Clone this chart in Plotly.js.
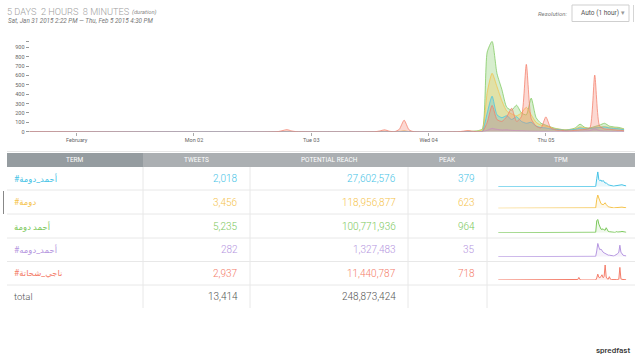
<!DOCTYPE html>
<html><head><meta charset="utf-8">
<script src="https://cdn.plot.ly/plotly-3.0.1.min.js"></script>
<style>html,body{margin:0;padding:0;background:#fff}#c{width:640px;height:360px}</style>
</head><body><div id="c"></div>
<script>
// ---------- DATA ----------
const times = [
  "2015-01-31 14:00",
  "2015-02-02 17:00","2015-02-02 18:00","2015-02-02 19:00","2015-02-02 20:00","2015-02-02 21:00",
  "2015-02-03 13:00","2015-02-03 14:00","2015-02-03 15:00","2015-02-03 16:00","2015-02-03 17:00",
  "2015-02-03 18:00","2015-02-03 19:00","2015-02-03 20:00","2015-02-03 21:00",
  "2015-02-04 06:00","2015-02-04 07:00","2015-02-04 08:00","2015-02-04 09:00","2015-02-04 10:00","2015-02-04 11:00",
  "2015-02-04 12:00","2015-02-04 13:00","2015-02-04 14:00","2015-02-04 15:00","2015-02-04 16:00","2015-02-04 17:00",
  "2015-02-04 18:00","2015-02-04 19:00","2015-02-04 20:00","2015-02-04 21:00","2015-02-04 22:00","2015-02-04 23:00",
  "2015-02-05 00:00","2015-02-05 01:00","2015-02-05 02:00","2015-02-05 03:00","2015-02-05 04:00","2015-02-05 05:00",
  "2015-02-05 06:00","2015-02-05 07:00","2015-02-05 08:00","2015-02-05 09:00","2015-02-05 10:00","2015-02-05 11:00",
  "2015-02-05 12:00","2015-02-05 13:00","2015-02-05 14:00","2015-02-05 15:00","2015-02-05 16:00"
];
const tpmBlue = [0, 0,0,0,0,0, 0,0,0,0,0,0,2,0,0, 0,0,2,0,0,5,
  200,379,180,150,170,130,160,110,90,100,60,45,
  40,30,25,20,15,20,25,40,30,35,40,45,50,40,35,30,20];
const tpmYellow = [0, 0,0,3,0,0, 0,2,4,0,0,3,8,2,0, 0,0,5,2,5,20,
  420,623,480,330,220,190,170,200,260,180,100,70,
  60,45,30,25,20,25,30,50,40,35,45,50,55,45,40,35,25];
const tpmGreen = [0, 0,0,2,0,0, 0,0,2,0,0,0,5,0,0, 0,0,3,5,10,30,
  850,964,620,450,260,230,283,200,180,358,150,90,
  70,50,35,25,20,25,40,80,45,40,55,70,90,60,50,45,30];
const tpmPurple = [0, 0,0,0,0,0, 0,0,0,0,0,0,0,0,0, 0,0,0,0,0,1,
  15,35,25,18,20,14,12,10,8,6,5,4,
  4,3,3,2,2,3,4,6,8,12,30,12,6,4,3,3,2];
const tpmRed = [0, 0,10,22,8,0, 0,8,20,5,0,25,123,20,0, 0,5,12,5,0,0,
  100,280,130,110,160,250,110,160,718,140,60,40,
  158,40,20,15,10,10,15,20,25,40,604,60,30,25,20,15,10];

const terms = ["#أحمد_دومة", "#دومة", "أحمد دومة", "#أحمد_دومه", "#ناجي_شحاتة"];
const tweets = [2018, 3456, 5235, 282, 2937];
const reach = [27602576, 118956877, 100771936, 1327483, 11440787];
const peaks = [379, 623, 964, 35, 718];
const totalTweets = 13414;
const totalReach = 248873424;
const headers = ["TERM", "TWEETS", "POTENTIAL REACH", "PEAK", "TPM"];

const xTickVals = ["2015-02-01 00:00","2015-02-02 00:00","2015-02-03 00:00","2015-02-04 00:00","2015-02-05 00:00"];
const xTickText = ["February","Mon 02","Tue 03","Wed 04","Thu 05"];
const yTickVals = [0,100,200,300,400,500,600,700,800,900,964];
const yTickText = ["0","100","200","300","400","500","600","700","800","900",""];

const durationText = "5 DAYS\u00a0\u00a02 HOURS\u00a0\u00a08 MINUTES";
const rangeText = "Sat, Jan 31 2015 2:22 PM — Thu, Feb 5 2015 4:30 PM";

// ---------- STYLE ----------
const series = [tpmBlue, tpmYellow, tpmGreen, tpmPurple, tpmRed];
const rgb = ["70,195,230","245,195,76","124,200,92","181,150,224","244,125,106"];
const drawOrder = [2,1,0,3,4];
const W = 640, H = 360;
const fx = p => p / W, fy = p => 1 - p / H;
const FONT = "Roboto, 'DejaVu Sans', sans-serif";

const xStart = "2015-01-31 14:22", xEnd = "2015-02-05 16:30";
const colX = [7,143,250,408,487,635];
const rowY = [167,190,214,238,261.5,285,308];
const sparkY = [[171.7,186.7],[195,208.3],[219.3,232.7],[243.3,256.7],[265,280]];

const traces = [];
drawOrder.forEach(i => {
  traces.push({type:"scatter", mode:"lines", x:times, y:series[i], xaxis:"x", yaxis:"y",
    fill:"tozeroy", fillcolor:`rgba(${rgb[i]},0.3)`,
    line:{color:`rgba(${rgb[i]},0.75)`, width:1, shape:"spline", smoothing:0.6},
    hoverinfo:"skip", showlegend:false});
});
series.forEach((s,i) => {
  const n = i + 2;
  traces.push({type:"scatter", mode:"lines", x:times, y:s, xaxis:"x"+n, yaxis:"y"+n,
    fill:"tozeroy", fillcolor:`rgba(${rgb[i]},0.12)`,
    line:{color:`rgb(${rgb[i]})`, width:1},
    hoverinfo:"skip", showlegend:false});
});

const layout = {
  width:W, height:H, margin:{l:0,r:0,t:0,b:0}, paper_bgcolor:"#fff", plot_bgcolor:"rgba(0,0,0,0)",
  font:{family:FONT, color:"#666"}, showlegend:false,
  xaxis:{type:"date", domain:[fx(29.6), fx(626.5)], range:[xStart, xEnd], anchor:"y",
    tickmode:"array", tickvals:xTickVals, ticktext:xTickText, ticks:"outside", ticklen:3,
    tickcolor:"#aaa", tickfont:{size:5.5, color:"#666"}, showgrid:false, zeroline:false, showline:false, fixedrange:true},
  yaxis:{domain:[fy(131.7), fy(41.3)], range:[0,964], anchor:"x",
    tickmode:"array", tickvals:yTickVals, ticktext:yTickText, ticks:"outside", ticklen:3,
    tickcolor:"#999", tickfont:{size:5.5, color:"#666"}, showgrid:false, zeroline:false, showline:false, fixedrange:true},
  shapes:[], annotations:[]
};
series.forEach((s,i) => {
  const n = i + 2;
  layout["xaxis"+n] = {type:"date", domain:[fx(498.3), fx(626.7)], range:[xStart, xEnd], anchor:"y"+n, visible:false, fixedrange:true};
  layout["yaxis"+n] = {domain:[fy(sparkY[i][1]), fy(sparkY[i][0])], range:[0, peaks[i]], anchor:"x"+n, visible:false, fixedrange:true};
});

const S = layout.shapes, A = layout.annotations;
const rect = (x0,y0,x1,y1,fill,line) => S.push({type:"rect", xref:"paper", yref:"paper",
  x0:fx(x0), x1:fx(x1), y0:fy(y1), y1:fy(y0), fillcolor:fill, line:{width:line?1:0, color:line||"rgba(0,0,0,0)"}, layer:"below"});
const seg = (x0,y0,x1,y1,color,w) => S.push({type:"line", xref:"paper", yref:"paper",
  x0:fx(x0), x1:fx(x1), y0:fy(y0), y1:fy(y1), line:{color, width:w||1}, layer:"below"});
const txt = (x,y,text,opts) => A.push(Object.assign({xref:"paper", yref:"paper", x:fx(x), y:fy(y),
  text, showarrow:false, xanchor:"left", yanchor:"middle", font:{family:FONT, size:8, color:"#666"}}, opts||{}));

// header texts
txt(5, 12, durationText, {font:{family:FONT, size:9.2, color:"#a0a0a0", weight:300}});
txt(130, 13, "<i>(duration)</i>", {font:{family:FONT, size:5.8, color:"#888"}});
txt(6, 20.5, "<i>"+rangeText+"</i>", {font:{family:FONT, size:6.3, color:"#777"}});

// resolution box
rect(572,5,629,21.5,"#fff","#cfcfcf");
seg(633.5,5,633.5,22,"#d5d5d5",1);
txt(569, 13.5, "<i>Resolution:</i>", {xanchor:"right", font:{family:FONT, size:6, color:"#777"}});
txt(579, 13.5, "Auto (1 hour)", {font:{family:FONT, size:6.5, color:"#555"}});
txt(623, 13.5, "▾", {xanchor:"center", font:{family:FONT, size:7, color:"#999"}});

// table header
seg(7,151.5,635,151.5,"#e6e6e6",1);
rect(7,153,635,167,"#abafb2");
rect(7,153,143,167,"#959ca0");
headers.forEach((h,c) => txt((colX[c]+colX[c+1])/2, 160.2, h, {xanchor:"center", font:{family:FONT, size:6.5, color:"#fff"}}));

// grid
for (let r=1; r<rowY.length-1; r++) seg(7,rowY[r],635,rowY[r],"#e8e8e8",1);
for (let c=1; c<colX.length-1; c++) seg(colX[c],167,colX[c],308,"#e8e8e8",1);
seg(3.5,191,3.5,214,"#888",1);

const fmt = v => v.toLocaleString("en-US");
const numFont = (col) => ({family:FONT, size:10, color:col, weight:300});
terms.forEach((t,i) => {
  const yc = (rowY[i]+rowY[i+1])/2;
  const col = `rgb(${rgb[i]})`;
  txt(12, yc, t, {font:{family:FONT, size:8.5, color:col}});
  txt(239.5, yc, fmt(tweets[i]), {xanchor:"right", font:numFont(col)});
  txt(397.5, yc, fmt(reach[i]), {xanchor:"right", font:numFont(col)});
  txt(476.8, yc, fmt(peaks[i]), {xanchor:"right", font:numFont(col)});
});
const yt = (rowY[5]+rowY[6])/2;
txt(12, yt, "total", {font:{family:FONT, size:9.5, color:"#555", weight:300}});
txt(239.5, yt, fmt(totalTweets), {xanchor:"right", font:numFont("#555")});
txt(397.5, yt, fmt(totalReach), {xanchor:"right", font:numFont("#555")});

// watermark
txt(632, 350, "spredfast", {xanchor:"right", font:{family:FONT, size:8, color:"#333", weight:500}});

Plotly.newPlot("c", traces, layout, {staticPlot:true, displayModeBar:false});
</script>
</body></html>
